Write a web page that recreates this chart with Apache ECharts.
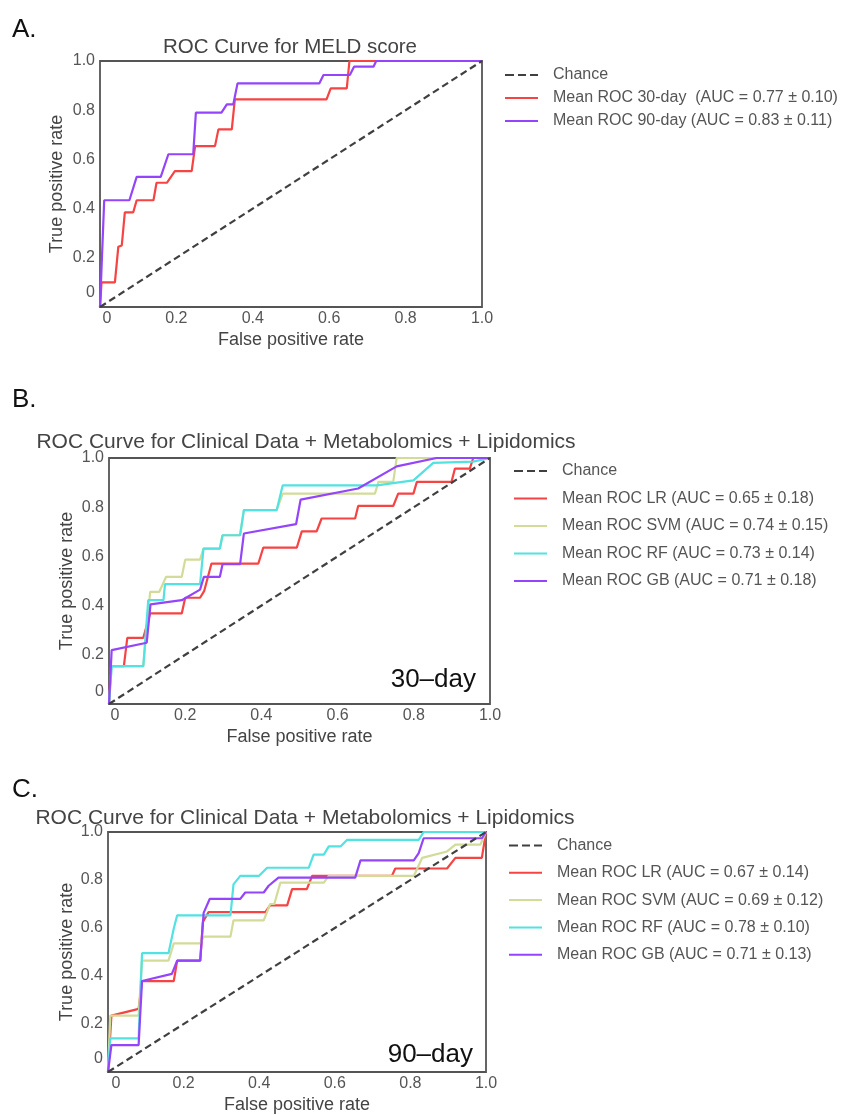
<!DOCTYPE html>
<html>
<head>
<meta charset="utf-8">
<script src="https://cdn.jsdelivr.net/npm/echarts@6/dist/echarts.min.js"></script>
<style>
  html, body { margin: 0; padding: 0; background: #fff; }
  #chart { width: 841px; height: 1115px; }
</style>
</head>
<body>
<div id="chart"></div>
<script>
// ---------- DATA ----------
var tickValues = [0, 0.2, 0.4, 0.6, 0.8, 1.0];
var chanceLine = [[0, 0], [1, 1]];

// Panel A: MELD score
var rocA_30day = [[0,0],[0.004,0.1],[0.039,0.1],[0.048,0.245],[0.057,0.25],[0.065,0.385],[0.087,0.385],[0.096,0.434],[0.14,0.434],[0.148,0.505],[0.175,0.505],[0.196,0.552],[0.24,0.552],[0.249,0.654],[0.301,0.654],[0.31,0.722],[0.345,0.722],[0.353,0.844],[0.593,0.844],[0.604,0.889],[0.646,0.889],[0.653,1.0],[1,1]];
var rocA_90day = [[0,0],[0.011,0.434],[0.077,0.434],[0.096,0.529],[0.159,0.529],[0.179,0.621],[0.244,0.621],[0.251,0.79],[0.318,0.79],[0.332,0.824],[0.349,0.824],[0.36,0.909],[0.574,0.909],[0.585,0.943],[0.654,0.943],[0.665,0.977],[0.716,0.977],[0.723,1],[1,1]];
var legendA = ['Chance', 'Mean ROC 30-day  (AUC = 0.77 \u00b1 0.10)', 'Mean ROC 90-day (AUC = 0.83 \u00b1 0.11)'];

// Panel B: 30-day, clinical + metabolomics + lipidomics
var rocB_LR = [[0,0],[0.005,0.154],[0.039,0.154],[0.048,0.269],[0.09,0.269],[0.108,0.368],[0.191,0.368],[0.2,0.432],[0.239,0.432],[0.25,0.46],[0.269,0.571],[0.392,0.571],[0.405,0.636],[0.493,0.636],[0.506,0.702],[0.545,0.702],[0.558,0.754],[0.646,0.754],[0.654,0.805],[0.746,0.805],[0.759,0.855],[0.799,0.855],[0.808,0.903],[0.899,0.903],[0.908,0.957],[0.947,0.957],[0.956,1],[1,1]];
var rocB_SVM = [[0,0],[0.007,0.154],[0.09,0.154],[0.108,0.456],[0.132,0.456],[0.15,0.517],[0.191,0.517],[0.2,0.587],[0.239,0.587],[0.248,0.632],[0.291,0.632],[0.298,0.686],[0.344,0.686],[0.354,0.788],[0.44,0.788],[0.456,0.855],[0.698,0.855],[0.707,0.903],[0.746,0.903],[0.755,1],[1,1]];
var rocB_RF = [[0,0],[0.007,0.154],[0.09,0.154],[0.103,0.422],[0.143,0.422],[0.147,0.487],[0.239,0.487],[0.248,0.632],[0.291,0.632],[0.298,0.686],[0.344,0.686],[0.354,0.788],[0.44,0.788],[0.456,0.889],[0.703,0.889],[0.799,0.909],[0.851,0.98],[0.956,0.985],[1,1]];
var rocB_GB = [[0,0],[0.007,0.219],[0.099,0.249],[0.109,0.405],[0.191,0.422],[0.239,0.465],[0.249,0.517],[0.291,0.517],[0.298,0.568],[0.344,0.568],[0.354,0.693],[0.491,0.731],[0.503,0.831],[0.654,0.876],[0.755,0.966],[0.86,1],[1,1]];
var legendB = ['Chance', 'Mean ROC LR (AUC = 0.65 \u00b1 0.18)', 'Mean ROC SVM (AUC = 0.74 \u00b1 0.15)', 'Mean ROC RF (AUC = 0.73 \u00b1 0.14)', 'Mean ROC GB (AUC = 0.71 \u00b1 0.18)'];

// Panel C: 90-day, clinical + metabolomics + lipidomics
var rocC_LR = [[0,0],[0.009,0.235],[0.081,0.263],[0.09,0.379],[0.174,0.379],[0.183,0.464],[0.244,0.464],[0.251,0.625],[0.266,0.666],[0.416,0.666],[0.429,0.694],[0.474,0.694],[0.487,0.762],[0.526,0.762],[0.54,0.817],[0.751,0.817],[0.76,0.848],[0.897,0.848],[0.919,0.892],[0.989,0.892],[1,1]];
var rocC_SVM = [[0,0],[0.006,0.235],[0.081,0.235],[0.09,0.464],[0.16,0.464],[0.174,0.536],[0.244,0.536],[0.253,0.564],[0.324,0.564],[0.332,0.632],[0.412,0.632],[0.429,0.7],[0.44,0.7],[0.456,0.789],[0.571,0.789],[0.584,0.817],[0.809,0.817],[0.831,0.892],[0.897,0.919],[0.919,0.947],[0.985,0.947],[1,1]];
var rocC_RF = [[0,0],[0.006,0.14],[0.081,0.14],[0.09,0.495],[0.16,0.495],[0.174,0.598],[0.183,0.653],[0.324,0.653],[0.332,0.782],[0.35,0.817],[0.399,0.817],[0.421,0.851],[0.531,0.851],[0.544,0.906],[0.571,0.906],[0.584,0.94],[0.615,0.94],[0.632,0.967],[0.822,0.967],[0.835,1],[1,1]];
var rocC_GB = [[0,0],[0.009,0.112],[0.081,0.112],[0.09,0.379],[0.169,0.409],[0.183,0.464],[0.244,0.464],[0.253,0.663],[0.269,0.721],[0.35,0.721],[0.363,0.748],[0.412,0.748],[0.425,0.776],[0.451,0.81],[0.654,0.81],[0.668,0.882],[0.809,0.882],[0.822,0.912],[0.835,0.974],[0.989,0.974],[1,1]];
var legendC = ['Chance', 'Mean ROC LR (AUC = 0.67 \u00b1 0.14)', 'Mean ROC SVM (AUC = 0.69 \u00b1 0.12)', 'Mean ROC RF (AUC = 0.78 \u00b1 0.10)', 'Mean ROC GB (AUC = 0.71 \u00b1 0.13)'];

var titleA = 'ROC Curve for MELD score';
var titleBC = 'ROC Curve for Clinical Data + Metabolomics + Lipidomics';

// ---------- STYLE ----------
var FONT = '"Liberation Sans", Arial, Helvetica, sans-serif';
var C_RED = '#f64343', C_SVM = '#d2dc98', C_RF = '#52e2e2', C_GB = '#9445fb', C_CH = '#404040';
var grayText = '#555555';
var ICON_DASH = 'path://M0,0H9V2H0Z M13,0H21V2H13Z M25,0H33V2H25Z';
var ICON_SOLID = 'path://M0,0H33V2H0Z';

function xAxisFor(idx, zeroShift) {
  return {
    gridIndex: idx, type: 'value', min: 0, max: 1, interval: 0.2,
    name: 'False positive rate', nameLocation: 'middle', nameGap: 24,
    nameTextStyle: { fontFamily: FONT, fontSize: 18, color: '#444' },
    axisLine: { show: false }, axisTick: { show: false }, splitLine: { show: false },
    axisLabel: {
      margin: 4, fontFamily: FONT, fontSize: 16, color: grayText,
      formatter: function (v) { return v === 0 ? '{z|0}' : v.toFixed(1); },
      rich: { z: { fontFamily: FONT, fontSize: 16, color: grayText, padding: [0, 0, 0, zeroShift] } }
    }
  };
}
function yAxisFor(idx, zeroShift, nameGap) {
  return {
    gridIndex: idx, type: 'value', min: 0, max: 1, interval: 0.2,
    name: 'True positive rate', nameLocation: 'middle', nameGap: nameGap,
    nameTextStyle: { fontFamily: FONT, fontSize: 18, color: '#444' },
    axisLine: { show: false }, axisTick: { show: false }, splitLine: { show: false },
    axisLabel: {
      margin: 5, fontFamily: FONT, fontSize: 16, color: grayText,
      formatter: function (v) { return v === 0 ? '{z|0}' : v.toFixed(1); },
      rich: { z: { fontFamily: FONT, fontSize: 16, color: grayText, padding: [0, 0, zeroShift, 0] } }
    }
  };
}
function lineSeries(name, data, color, idx, dashed, z) {
  return {
    type: 'line', name: name, data: data, xAxisIndex: idx, yAxisIndex: idx,
    symbol: 'none', silent: true, z: z || 2, animation: false,
    lineStyle: { color: color, width: 2.2, type: dashed ? [7, 4] : 'solid' },
    itemStyle: { color: color }
  };
}
function legendFor(names, left, top, gap) {
  return {
    data: names.map(function (n, i) { return { name: n, icon: i === 0 ? ICON_DASH : ICON_SOLID }; }),
    orient: 'vertical', left: left, top: top, padding: 0,
    itemWidth: 33, itemHeight: 2, itemGap: gap, selectedMode: false,
    textStyle: { fontFamily: FONT, fontSize: 16, color: grayText, lineHeight: 16, padding: [0, 0, 0, 10] }
  };
}

var gridBox = { show: true, borderColor: '#555', borderWidth: 1.8, backgroundColor: '#fff' };

var option = {
  backgroundColor: '#ffffff',
  animation: false,
  grid: [
    Object.assign({ left: 100, top: 61, width: 382, height: 246 }, gridBox),
    Object.assign({ left: 109, top: 458, width: 381, height: 246 }, gridBox),
    Object.assign({ left: 108, top: 832, width: 378, height: 244 }, gridBox)
  ],
  xAxis: [xAxisFor(0, 14), xAxisFor(1, 12), xAxisFor(2, 16)],
  yAxis: [yAxisFor(0, 28, 34), yAxisFor(1, 24, 33), yAxisFor(2, 26, 32)],
  legend: [
    legendFor(legendA, 505, 67, 7),
    legendFor(legendB, 514, 463, 11.5),
    legendFor(legendC, 509, 837.5, 11.3)
  ],
  series: [
    lineSeries(legendA[0], chanceLine, C_CH, 0, true, 3),
    lineSeries(legendA[1], rocA_30day, C_RED, 0),
    lineSeries(legendA[2], rocA_90day, C_GB, 0),

    lineSeries(legendB[0], chanceLine, C_CH, 1, true, 3),
    lineSeries(legendB[1], rocB_LR, C_RED, 1),
    lineSeries(legendB[2], rocB_SVM, C_SVM, 1),
    lineSeries(legendB[3], rocB_RF, C_RF, 1),
    lineSeries(legendB[4], rocB_GB, C_GB, 1),

    lineSeries(legendC[0], chanceLine, C_CH, 2, true, 3),
    lineSeries(legendC[1], rocC_LR, C_RED, 2),
    lineSeries(legendC[2], rocC_SVM, C_SVM, 2),
    lineSeries(legendC[3], rocC_RF, C_RF, 2),
    lineSeries(legendC[4], rocC_GB, C_GB, 2)
  ],
  graphic: [
    { type: 'text', x: 12, y: 30, style: { text: 'A.', font: '26px ' + FONT, fill: '#111', textVerticalAlign: 'middle' } },
    { type: 'text', x: 12, y: 400, style: { text: 'B.', font: '26px ' + FONT, fill: '#111', textVerticalAlign: 'middle' } },
    { type: 'text', x: 12, y: 790, style: { text: 'C.', font: '26px ' + FONT, fill: '#111', textVerticalAlign: 'middle' } },
    { type: 'text', x: 290, y: 47, style: { text: titleA, font: '20.5px ' + FONT, fill: '#444', textAlign: 'center', textVerticalAlign: 'middle' } },
    { type: 'text', x: 306, y: 442, style: { text: titleBC, font: '21px ' + FONT, fill: '#444', textAlign: 'center', textVerticalAlign: 'middle' } },
    { type: 'text', x: 305, y: 818, style: { text: titleBC, font: '21px ' + FONT, fill: '#444', textAlign: 'center', textVerticalAlign: 'middle' } },
    { type: 'text', x: 476, y: 680, z: 10, style: { text: '30\u2013day', font: '26px ' + FONT, fill: '#111', textAlign: 'right', textVerticalAlign: 'middle' } },
    { type: 'text', x: 473, y: 1055, z: 10, style: { text: '90\u2013day', font: '26px ' + FONT, fill: '#111', textAlign: 'right', textVerticalAlign: 'middle' } }
  ]
};

var chart = echarts.init(document.getElementById('chart'), null, { renderer: 'canvas' });
chart.setOption(option);
</script>
</body>
</html>
